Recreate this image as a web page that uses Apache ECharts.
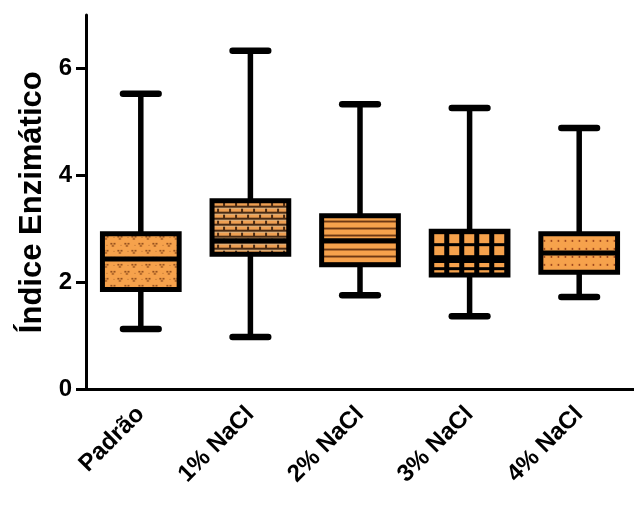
<!DOCTYPE html>
<html>
<head>
<meta charset="utf-8">
<script src="https://cdn.jsdelivr.net/npm/echarts@6/dist/echarts.min.js"></script>
<style>html,body{margin:0;padding:0;background:#fff}#c{width:634px;height:506px}</style>
</head>
<body>
<div id="c"></div>
<script>
// ---- data ----
var categories = ['Padrão', '1% NaCl', '2% NaCl', '3% NaCl', '4% NaCl'];
var minValues    = [1.13, 0.98, 1.76, 1.37, 1.73];
var q1Values     = [1.87, 2.53, 2.33, 2.14, 2.19];
var medianValues = [2.44, 2.78, 2.78, 2.41, 2.55];
var q3Values     = [2.91, 3.53, 3.25, 2.96, 2.91];
var maxValues    = [5.53, 6.33, 5.33, 5.26, 4.89];
var yTicks = [0, 2, 4, 6];
var yAxisName = 'Índice Enzimático';

// ---- patterns ----
var ORANGE = '#F6A24C';
function tile(w, h, draw) {
  var c = document.createElement('canvas');
  c.width = w; c.height = h;
  var ctx = c.getContext('2d');
  draw(ctx, w, h);
  return c;
}
var tiles = [
  // Padrão: dotted "v" motifs
  tile(14, 14, function (ctx, w, h) {
    ctx.fillStyle = ORANGE; ctx.fillRect(0, 0, w, h);
    ctx.fillStyle = '#7a3a12';
    function motif(x, y) {
      ctx.fillRect(x, y, 1.6, 1.6);
      ctx.fillRect(x + 3.2, y, 1.6, 1.6);
      ctx.fillRect(x + 1.6, y + 2.2, 1.6, 1.6);
    }
    motif(1, 2); motif(8, 9);
    ctx.fillStyle = 'rgba(120,60,20,0.5)';
    ctx.fillRect(11, 3, 1, 1); ctx.fillRect(4, 11, 1, 1);
  }),
  // 1% NaCl: bricks
  tile(24, 12, function (ctx, w, h) {
    ctx.fillStyle = '#4a2a12'; ctx.fillRect(0, 0, w, h);
    for (var r = 0; r < 2; r++) {
      var y0 = r * 6, off = r * 6;
      ctx.fillStyle = '#D8B486';
      ctx.fillRect(0, y0 + 1, w, 1);
      ctx.fillStyle = '#EE9F52';
      for (var k = -1; k < 3; k++) {
        ctx.fillRect(off + k * 12 + 1, y0 + 2, 10, 3);
      }
    }
  }),
  // 2% NaCl: horizontal stripes
  tile(8, 7, function (ctx, w, h) {
    ctx.fillStyle = ORANGE; ctx.fillRect(0, 0, w, h);
    ctx.fillStyle = '#5a2a0c'; ctx.fillRect(0, 5, w, 1.6);
  }),
  // 3% NaCl: black grid with orange squares
  tile(15, 12, function (ctx, w, h) {
    ctx.fillStyle = '#000'; ctx.fillRect(0, 0, w, h);
    ctx.fillStyle = ORANGE; ctx.fillRect(3, 3, 10, 9);
  }),
  // 4% NaCl: dotted rows
  tile(7, 8, function (ctx, w, h) {
    ctx.fillStyle = ORANGE; ctx.fillRect(0, 0, w, h);
    ctx.fillStyle = '#8a3414';
    ctx.beginPath(); ctx.arc(3.5, 7, 0.9, 0, Math.PI * 2); ctx.fill();
  })
];

var seriesData = categories.map(function (c, i) {
  return [i, minValues[i], q1Values[i], medianValues[i], q3Values[i], maxValues[i]];
});

var chart = echarts.init(document.getElementById('c'));
var FONT = 'Liberation Sans';
chart.setOption({
  animation: false,
  backgroundColor: '#fff',
  grid: { left: 86, top: 15, width: 555, height: 374.5 },
  xAxis: {
    type: 'category',
    data: categories,
    axisLine: { lineStyle: { color: '#000', width: 3 } },
    axisTick: { alignWithLabel: true, length: 10, lineStyle: { color: '#000', width: 3 } },
    axisLabel: { rotate: 45, margin: 21, color: '#000', fontFamily: FONT, fontWeight: 'bold', fontSize: 24 },
    splitLine: { show: false }
  },
  yAxis: {
    type: 'value',
    min: 0, max: 7,
    name: yAxisName,
    nameLocation: 'middle',
    nameGap: 37,
    nameTextStyle: { color: '#000', fontFamily: FONT, fontWeight: 'bold', fontSize: 31 },
    axisLine: { show: true, lineStyle: { color: '#000', width: 3 } },
    axisTick: { show: true, length: 10, customValues: yTicks, lineStyle: { color: '#000', width: 3 } },
    axisLabel: { margin: 14, customValues: yTicks, color: '#000', fontFamily: FONT, fontWeight: 'bold', fontSize: 24 },
    splitLine: { show: false }
  },
  series: [{
    type: 'custom',
    data: seriesData,
    encode: { x: 0, y: [1, 2, 3, 4, 5] },
    renderItem: function (params, api) {
      var idx = api.value(0);
      var band = api.size([1, 0])[0];
      var boxW = band * 0.70;
      var capW = band * 0.38;
      var pMin = api.coord([idx, api.value(1)]);
      var pQ1 = api.coord([idx, api.value(2)]);
      var pMed = api.coord([idx, api.value(3)]);
      var pQ3 = api.coord([idx, api.value(4)]);
      var pMax = api.coord([idx, api.value(5)]);
      var cx = pQ1[0];
      var x0 = cx - boxW / 2;
      var line = { stroke: '#000', lineWidth: 5.5, lineCap: 'butt' };
      var cap = { stroke: '#000', lineWidth: 6.5, lineCap: 'round' };
      return {
        type: 'group',
        children: [
          { type: 'line', shape: { x1: cx, y1: pQ3[1], x2: cx, y2: pMax[1] }, style: line },
          { type: 'line', shape: { x1: cx, y1: pQ1[1], x2: cx, y2: pMin[1] }, style: line },
          { type: 'line', shape: { x1: cx - capW / 2 + 3, y1: pMax[1], x2: cx + capW / 2 - 3, y2: pMax[1] }, style: cap },
          { type: 'line', shape: { x1: cx - capW / 2 + 3, y1: pMin[1], x2: cx + capW / 2 - 3, y2: pMin[1] }, style: cap },
          { type: 'rect', shape: { x: x0, y: pQ3[1], width: boxW, height: pQ1[1] - pQ3[1] },
            style: { fill: { image: tiles[idx], repeat: 'repeat', x: x0, y: pQ3[1] }, stroke: '#000', lineWidth: 5 } },
          { type: 'line', shape: { x1: x0, y1: pMed[1], x2: x0 + boxW, y2: pMed[1] }, style: { stroke: '#000', lineWidth: 5 } }
        ]
      };
    }
  }]
});
</script>
</body>
</html>
